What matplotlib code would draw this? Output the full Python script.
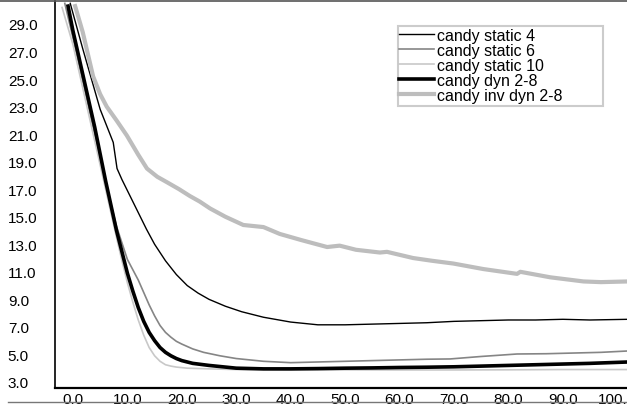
import matplotlib
matplotlib.use("Agg")
import matplotlib.pyplot as plt
from matplotlib.lines import Line2D
from matplotlib.patches import Rectangle

plt.rcParams['font.family'] = ['Liberation Sans', 'DejaVu Sans']

# series
x_static4 = [-0.5, 1.8, 5.0, 7.4, 8.1, 9.0, 10.5, 12.0, 13.5, 15.0, 17.0, 19.0, 21.0, 23.0,
             25.0, 28.0, 31.0, 35.0, 40.0, 45.0, 50.0, 55.0, 60.0, 65.0, 70.0, 75.0, 80.0,
             85.0, 90.0, 95.0, 102.0]
y_static4 = [30.5, 27.2, 22.8, 20.4, 18.5, 17.7, 16.5, 15.3, 14.1, 13.0, 11.8, 10.8, 10.0, 9.45,
             9.0, 8.5, 8.1, 7.7, 7.35, 7.15, 7.15, 7.2, 7.25, 7.3, 7.4, 7.45, 7.5,
             7.5, 7.55, 7.5, 7.55]

x_static6 = [-1.5, 0.0, 2.0, 4.0, 6.0, 8.0, 10.0, 12.0, 13.0, 14.0, 15.0, 16.0, 17.0, 18.0,
             19.0, 20.0, 22.0, 24.0, 27.0, 30.0, 35.0, 40.0, 45.0, 50.0, 55.0, 60.0, 65.0,
             69.3, 75.0, 81.6, 87.0, 92.0, 97.0, 102.0]
y_static6 = [30.5, 28.0, 24.5, 21.0, 17.5, 14.3, 11.9, 10.4, 9.5, 8.6, 7.8, 7.1, 6.6, 6.25,
             5.95, 5.75, 5.4, 5.15, 4.9, 4.7, 4.5, 4.4, 4.45, 4.5, 4.55, 4.6, 4.65,
             4.67, 4.85, 5.03, 5.05, 5.1, 5.15, 5.25]

x_static10 = [-2.0, 0.0, 2.0, 4.0, 6.0, 8.0, 9.0, 10.0, 11.0, 12.0, 13.0, 14.0, 15.0, 16.0,
              17.0, 18.0, 19.0, 21.0, 25.0, 30.0, 40.0, 50.0, 60.0, 70.0, 80.0, 90.0, 102.0]
y_static10 = [30.2, 27.5, 24.0, 20.5, 17.0, 13.5, 11.8, 10.2, 8.8, 7.5, 6.4, 5.5, 4.9, 4.5,
              4.25, 4.15, 4.08, 4.0, 3.95, 3.9, 3.88, 3.88, 3.87, 3.87, 3.88, 3.9, 3.9]

x_dyn = [-0.9, 0.0, 2.0, 4.0, 6.0, 8.0, 10.0, 11.0, 12.0, 13.0, 14.0, 15.0, 16.0, 17.0,
         18.0, 19.0, 20.0, 22.0, 25.0, 30.0, 35.0, 40.0, 45.0, 50.0, 55.0, 60.0, 65.0,
         70.0, 75.0, 80.0, 85.0, 90.0, 95.0, 102.0]
y_dyn = [30.3, 28.5, 25.0, 21.5, 17.6, 14.0, 10.9, 9.6, 8.4, 7.4, 6.6, 6.0, 5.5, 5.15,
         4.9, 4.7, 4.55, 4.35, 4.2, 4.0, 3.95, 3.95, 3.97, 4.0, 4.02, 4.05, 4.07,
         4.1, 4.15, 4.2, 4.25, 4.3, 4.35, 4.45]

x_invdyn = [0.4, 1.8, 3.7, 5.0, 6.2, 8.0, 9.9, 12.0, 13.6, 15.5, 17.3, 19.5, 21.5, 23.3,
            25.2, 28.0, 31.3, 35.0, 38.0, 42.0, 46.7, 49.0, 52.0, 56.4, 57.7, 62.5, 66.0,
            69.9, 75.4, 81.6, 82.2, 87.7, 93.8, 97.0, 102.0]
y_invdyn = [30.3, 28.4, 25.2, 23.9, 23.0, 22.0, 20.9, 19.5, 18.5, 17.9, 17.5, 17.0, 16.5, 16.1,
            15.6, 15.0, 14.4, 14.25, 13.75, 13.3, 12.8, 12.9, 12.6, 12.4, 12.45, 12.0, 11.8,
            11.6, 11.2, 10.85, 11.0, 10.6, 10.3, 10.25, 10.3]

x_ticks = [0, 10, 20, 30, 40, 50, 60, 70, 80, 90, 100]
y_ticks = [3, 5, 7, 9, 11, 13, 15, 17, 19, 21, 23, 25, 27, 29]

fig = plt.figure(figsize=(6.27, 4.10), dpi=100)
ax = fig.add_axes([55 / 627, 21 / 410, 572 / 627, 387 / 410])

ax.plot(x_static4, y_static4, color='black', lw=1.0, label='candy static 4')
ax.plot(x_static6, y_static6, color='#858585', lw=1.2, label='candy static 6')
ax.plot(x_static10, y_static10, color='#c8c8c8', lw=1.2, label='candy static 10')
ax.plot(x_dyn, y_dyn, color='black', lw=2.6, label='candy dyn 2-8')
ax.plot(x_invdyn, y_invdyn, color='#bdbdbd', lw=3.0, label='candy inv dyn 2-8')

ax.set_xlim(-3.3, 101.8)
ax.set_ylim(2.56, 30.67)
ax.set_xticks(x_ticks)
ax.set_xticklabels([f'{v:.1f}' for v in x_ticks])
ax.set_yticks(y_ticks)
ax.set_yticklabels([f'{v:.1f}' for v in y_ticks])
ax.tick_params(axis='x', length=0, pad=3, labelsize=11)
ax.tick_params(axis='y', length=0, pad=34, labelsize=11)
for lab in ax.get_yticklabels():
    lab.set_horizontalalignment('left')

ax.spines['top'].set_visible(False)
ax.spines['right'].set_visible(False)
ax.spines['left'].set_linewidth(1.2)
ax.spines['bottom'].set_linewidth(1.6)

ax.add_patch(Rectangle((0.5997, 0.7287), 0.358, 0.2067, transform=ax.transAxes,
                       facecolor='white', edgecolor='#cccccc', lw=1.5, zorder=4))
leg = ax.legend(loc='upper left', bbox_to_anchor=(0.601, 0.93), frameon=False,
                borderaxespad=0, borderpad=0, labelspacing=0.0, handlelength=2.2,
                handletextpad=0.2, fontsize=11.5)
leg.set_zorder(5)

fig.add_artist(Line2D([0, 1], [1 - 2 / 410, 1 - 2 / 410], color='#555555', lw=1.2))
fig.add_artist(Line2D([8 / 627, 1], [7 / 410, 7 / 410], color='#777777', lw=1.0))

fig.savefig('out.png', dpi=100)
